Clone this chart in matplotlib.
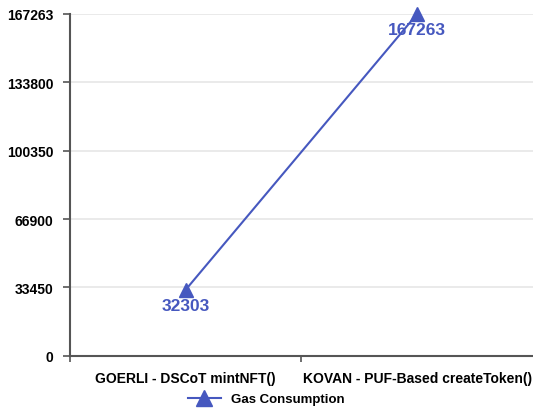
import matplotlib.pyplot as plt

plt.rcParams['font.family'] = ['Liberation Sans', 'DejaVu Sans']
plt.rcParams['font.weight'] = 'bold'

categories = ['GOERLI - DSCoT mintNFT()', 'KOVAN - PUF-Based createToken()']
gas_used = [32303, 167263]
y_ticks = [0, 33450, 66900, 100350, 133800, 167263]

blue = '#4658bf'

fig = plt.figure(figsize=(5.33, 4.14), dpi=100)
ax = fig.add_axes([0.131, 0.138, 0.869, 0.826])

x = list(range(len(categories)))
ax.plot(x, gas_used, color=blue, linewidth=1.5, marker='^', markersize=10,
        label='Gas Consumption', clip_on=False, zorder=3)

# value labels sit just under each marker
for xi, val in zip(x, gas_used):
    ax.annotate(str(val), (xi, val), xytext=(0, -6), textcoords='offset points',
                ha='center', va='top', color=blue, fontsize=12.5, fontweight='bold')

ax.set_xlim(-0.5, 1.5)
ax.set_ylim(0, 167263)
ax.set_yticks(y_ticks)
ax.set_yticklabels([str(t) for t in y_ticks], fontsize=10, fontweight='bold')
ax.set_xticks([-0.5, 0.5])
ax.set_xticklabels(['', ''])
ax.set_xticks(x, minor=True)
ax.set_xticklabels(categories, minor=True, fontsize=10, fontweight='bold')
ax.tick_params(axis='x', which='minor', length=0, pad=11)
ax.tick_params(axis='x', which='major', length=4, color='#555555', width=1.2)
ax.tick_params(axis='y', length=5, color='#555555', width=1.2, pad=7)

ax.grid(axis='y', color='#e6e6e6', linewidth=1.2)
ax.set_axisbelow(True)
for side in ['top', 'right']:
    ax.spines[side].set_visible(False)
for side in ['left', 'bottom']:
    ax.spines[side].set_color('#555555')
    ax.spines[side].set_linewidth(1.5)

fig.legend(loc='lower center', bbox_to_anchor=(0.5, -0.01), frameon=False,
           prop={'size': 9.5, 'weight': 'bold'}, handlelength=2.5, markerscale=1.1)

fig.savefig('out.png', dpi=100)
